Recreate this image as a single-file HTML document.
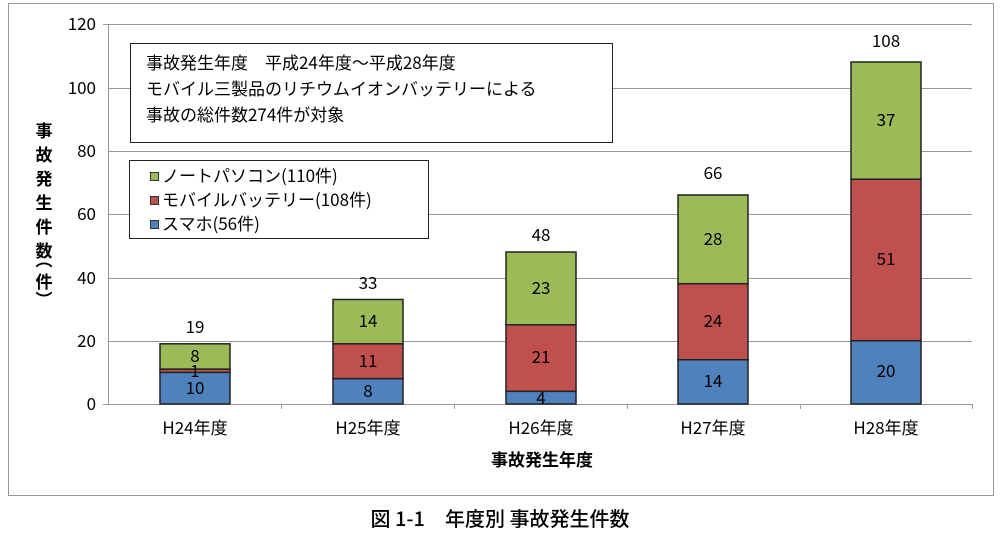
<!DOCTYPE html>
<html><head><meta charset="utf-8"><style>
body{margin:0;background:#fff;}
text{font-family:"Noto Sans CJK JP","Liberation Sans",sans-serif;fill:#000;}
</style></head><body>
<svg width="1000" height="534" xmlns="http://www.w3.org/2000/svg">
<rect x="8.5" y="3.5" width="985" height="492" fill="#fff" stroke="#999"/>
<g stroke="#999" stroke-width="1">
<line x1="108" y1="24.5" x2="972" y2="24.5"/>
<line x1="108" y1="88.5" x2="972" y2="88.5"/>
<line x1="108" y1="151.5" x2="972" y2="151.5"/>
<line x1="108" y1="214.5" x2="972" y2="214.5"/>
<line x1="108" y1="278.5" x2="972" y2="278.5"/>
<line x1="108" y1="341.5" x2="972" y2="341.5"/>
<line x1="103" y1="404.5" x2="972" y2="404.5"/>
<line x1="108.5" y1="24" x2="108.5" y2="404"/>
<line x1="281.5" y1="404" x2="281.5" y2="409"/>
<line x1="454.5" y1="404" x2="454.5" y2="409"/>
<line x1="627.5" y1="404" x2="627.5" y2="409"/>
<line x1="800.5" y1="404" x2="800.5" y2="409"/>
<line x1="972.5" y1="404" x2="972.5" y2="409"/>
<line x1="103" y1="24.5" x2="108" y2="24.5"/>
</g>
<g font-size="17" text-anchor="end">
<text x="96" y="30">120</text><text x="96" y="94">100</text><text x="96" y="157">80</text>
<text x="96" y="220">60</text><text x="96" y="284">40</text><text x="96" y="347">20</text><text x="96" y="410">0</text>
</g>
<g font-size="17" font-weight="bold" text-anchor="middle">
<text x="44" y="137">事</text><text x="44" y="161">故</text><text x="44" y="185">発</text><text x="44" y="209">生</text><text x="44" y="233">件</text><text x="44" y="257">数</text>
<text x="44" y="266">︵</text><text x="44" y="288">件</text>
<text x="44" y="306">︶</text>
</g>
<g stroke="#222" stroke-width="1.5">
<rect x="160" y="372.3" width="70" height="31.7" fill="#4f81bd"/>
<rect x="160" y="369.2" width="70" height="3.2" fill="#c0504d"/>
<rect x="160" y="343.8" width="70" height="25.3" fill="#9bbb59"/>
<rect x="333" y="378.7" width="70" height="25.3" fill="#4f81bd"/>
<rect x="333" y="343.8" width="70" height="34.8" fill="#c0504d"/>
<rect x="333" y="299.5" width="70" height="44.3" fill="#9bbb59"/>
<rect x="506" y="391.3" width="70" height="12.7" fill="#4f81bd"/>
<rect x="506" y="324.8" width="70" height="66.5" fill="#c0504d"/>
<rect x="506" y="252" width="70" height="72.8" fill="#9bbb59"/>
<rect x="678" y="359.7" width="70" height="44.3" fill="#4f81bd"/>
<rect x="678" y="283.7" width="70" height="76" fill="#c0504d"/>
<rect x="678" y="195" width="70" height="88.7" fill="#9bbb59"/>
<rect x="851" y="340.7" width="70" height="63.3" fill="#4f81bd"/>
<rect x="851" y="179.2" width="70" height="161.5" fill="#c0504d"/>
<rect x="851" y="62" width="70" height="117.2" fill="#9bbb59"/>
</g>
<g font-size="17" text-anchor="middle">
<text x="195" y="394">10</text><text x="195" y="377">1</text><text x="195" y="362">8</text><text x="195" y="333">19</text>
<text x="368" y="397">8</text><text x="368" y="367">11</text><text x="368" y="327">14</text><text x="368" y="289">33</text>
<text x="541" y="404">4</text><text x="541" y="363">21</text><text x="541" y="294">23</text><text x="541" y="241">48</text>
<text x="713" y="387">14</text><text x="713" y="327">24</text><text x="713" y="245">28</text><text x="713" y="179">66</text>
<text x="886" y="377">20</text><text x="886" y="265">51</text><text x="886" y="126">37</text><text x="886" y="47">108</text>
</g>
<g font-size="17" text-anchor="middle">
<text x="195" y="434">H24年度</text><text x="368" y="434">H25年度</text><text x="541" y="434">H26年度</text>
<text x="713" y="434">H27年度</text><text x="886" y="434">H28年度</text>
<text x="542" y="466" font-weight="bold">事故発生年度</text>
</g>
<rect x="130.5" y="43.5" width="482" height="99" fill="#fff" stroke="#222"/>
<g font-size="17">
<text x="146" y="69">事故発生年度　平成24年度～平成28年度</text>
<text x="146" y="95">モバイル三製品のリチウムイオンバッテリーによる</text>
<text x="146" y="121">事故の総件数274件が対象</text>
</g>
<rect x="129.5" y="160.5" width="299" height="78" fill="#fff" stroke="#222"/>
<g stroke="#333" stroke-width="1">
<rect x="150.5" y="172.5" width="8" height="8" fill="#9bbb59"/>
<rect x="150.5" y="196.5" width="8" height="8" fill="#c0504d"/>
<rect x="150.5" y="220.5" width="8" height="8" fill="#4f81bd"/>
</g>
<g font-size="17">
<text x="162" y="182">ノートパソコン(110件)</text>
<text x="162" y="206">モバイルバッテリー(108件)</text>
<text x="162" y="230">スマホ(56件)</text>
</g>
<text x="500" y="526" font-size="20" font-weight="500" text-anchor="middle">図 1-1　年度別 事故発生件数</text>
</svg>
</body></html>
